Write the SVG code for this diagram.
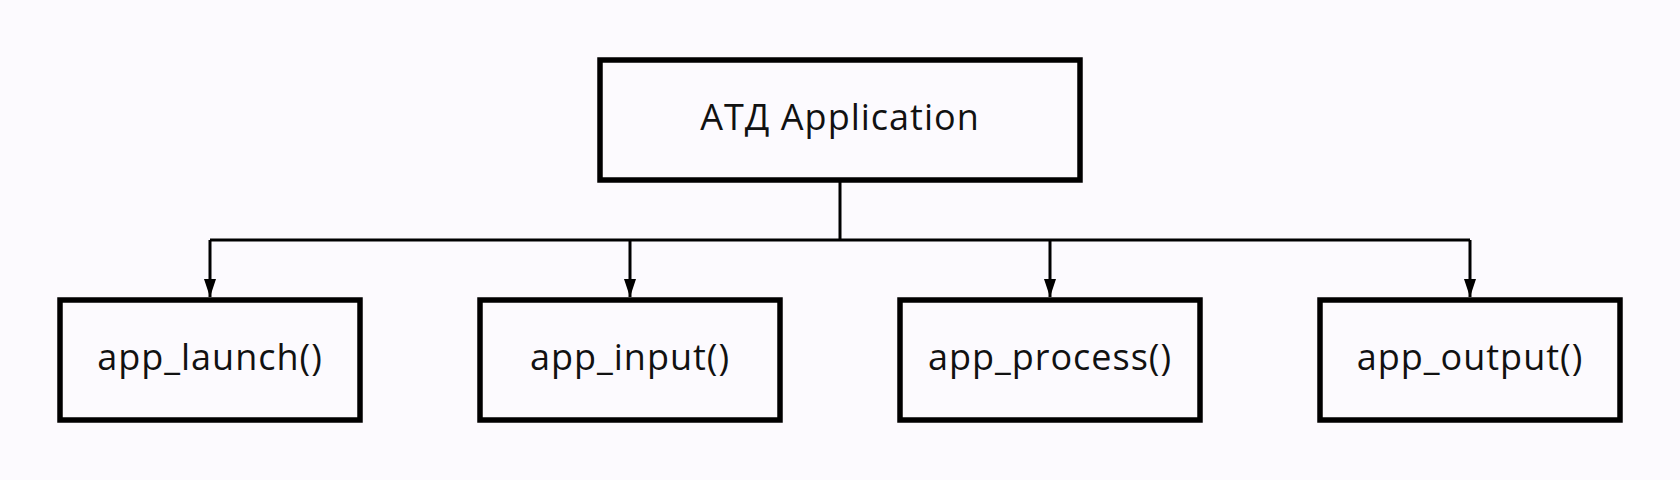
<svg xmlns="http://www.w3.org/2000/svg" width="1680" height="480" viewBox="0 0 1680 480">
<style>
.box{fill:none;stroke:#000;stroke-width:5.5}
.lbl{font-family:"Open Sans",Lato,sans-serif;font-size:36px;letter-spacing:1px;fill:#111;text-anchor:middle;dominant-baseline:central;font-variant-ligatures:none}
.con{fill:none;stroke:#000;stroke-width:3}
</style>
<defs>
<marker id="ah" viewBox="0 0 18 12" refX="18" refY="6" markerWidth="18" markerHeight="12" markerUnits="userSpaceOnUse" orient="auto">
<path d="M0,0 L18,6 L0,12 Z" fill="#000"/>
</marker>
</defs>
<rect width="1680" height="480" fill="#FCFAFE"/>
<g id="connectors">
<path class="con" d="M840,180 V240"/>
<path class="con" d="M210,240 H1470"/>
<path class="con" d="M210,240 V297" marker-end="url(#ah)"/>
<path class="con" d="M630,240 V297" marker-end="url(#ah)"/>
<path class="con" d="M1050,240 V297" marker-end="url(#ah)"/>
<path class="con" d="M1470,240 V297" marker-end="url(#ah)"/>
</g>
<g id="app">
<rect class="box" x="600" y="60" width="480" height="120"/>
<text class="lbl" x="840" y="116">АТД Application</text>
</g>
<g id="launch">
<rect class="box" x="60" y="300" width="300" height="120"/>
<text class="lbl" x="210" y="356">app_launch()</text>
</g>
<g id="input">
<rect class="box" x="480" y="300" width="300" height="120"/>
<text class="lbl" x="630" y="356">app_input()</text>
</g>
<g id="process">
<rect class="box" x="900" y="300" width="300" height="120"/>
<text class="lbl" x="1050" y="356">app_process()</text>
</g>
<g id="output">
<rect class="box" x="1320" y="300" width="300" height="120"/>
<text class="lbl" x="1470" y="356">app_output()</text>
</g>
</svg>
